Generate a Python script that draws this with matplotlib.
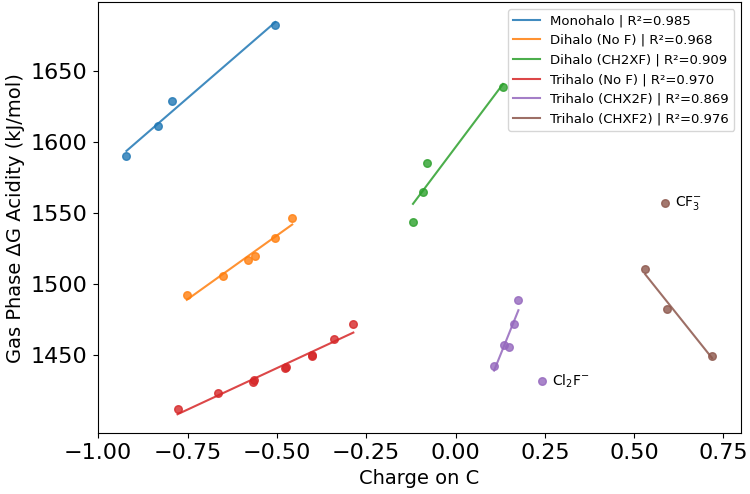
import matplotlib
matplotlib.use("Agg")
import matplotlib.pyplot as plt
import numpy as np

# charge on C / gas phase dG acidity (kJ/mol)
mono_x = [-0.921, -0.833, -0.794, -0.504]
mono_y = [1590.1, 1611.3, 1629.0, 1683.0]

di_nof_x = [-0.752, -0.650, -0.581, -0.562, -0.504, -0.457]
di_nof_y = [1492.2, 1505.4, 1517.1, 1519.5, 1532.6, 1546.8]

di_ch2xf_x = [-0.119, -0.091, -0.081, 0.133]
di_ch2xf_y = [1543.5, 1564.9, 1585.6, 1638.8]

tri_nof_x = [-0.778, -0.665, -0.567, -0.563, -0.477, -0.474, -0.403, -0.401, -0.340, -0.286]
tri_nof_y = [1411.4, 1422.7, 1430.7, 1431.8, 1440.4, 1441.6, 1449.8, 1449.2, 1460.9, 1471.9]

tri_chx2f_x = [0.108, 0.135, 0.151, 0.163, 0.176]
tri_chx2f_y = [1442.2, 1456.6, 1455.6, 1471.7, 1488.6]

tri_chxf2_x = [0.531, 0.592, 0.718]
tri_chxf2_y = [1510.3, 1482.1, 1449.3]

names = ["Monohalo", "Dihalo (No F)", "Dihalo (CH2XF)",
         "Trihalo (No F)", "Trihalo (CHX2F)", "Trihalo (CHXF2)"]
r2 = ["0.985", "0.968", "0.909", "0.970", "0.869", "0.976"]

# outliers, not in the fits
outlier_x = [0.242, 0.587]
outlier_y = [1431.4, 1557.3]
outlier_labels = ["Cl$_2$F$^{-}$", "CF$_3^{-}$"]
outlier_group = [4, 5]

groups = [(mono_x, mono_y), (di_nof_x, di_nof_y), (di_ch2xf_x, di_ch2xf_y),
          (tri_nof_x, tri_nof_y), (tri_chx2f_x, tri_chx2f_y), (tri_chxf2_x, tri_chxf2_y)]
colors = plt.rcParams['axes.prop_cycle'].by_key()['color']

fig, ax = plt.subplots(figsize=(7.5, 4.94), dpi=100)
fig.subplots_adjust(left=0.130, right=0.988, top=0.995, bottom=0.123)

for i, (gx, gy) in enumerate(groups):
    gx = np.array(gx)
    gy = np.array(gy)
    c = colors[i]
    ax.scatter(gx, gy, color=c, s=30, alpha=0.8)
    m, b = np.polyfit(gx, gy, 1)
    xx = np.array([gx.min(), gx.max()])
    ax.plot(xx, m * xx + b, color=c, lw=1.5, alpha=0.85,
            label=f"{names[i]} | R²={r2[i]}")

for ox, oy, lab, g in zip(outlier_x, outlier_y, outlier_labels, outlier_group):
    ax.scatter(ox, oy, color=colors[g], s=30, alpha=0.8)
    ax.annotate(lab, (ox, oy), xytext=(7, 0), textcoords='offset points',
                va='center', fontsize=10)

ax.set_xlabel("Charge on C", fontsize=14)
ax.set_ylabel("Gas Phase ΔG Acidity (kJ/mol)", fontsize=14)
ax.tick_params(labelsize=16)
ax.set_xticks([-1.0, -0.75, -0.5, -0.25, 0.0, 0.25, 0.5, 0.75])
ax.set_yticks([1450, 1500, 1550, 1600, 1650])
ax.set_xlim(-1.002, 0.799)
ax.set_ylim(1394.5, 1698.7)
ax.legend(loc='upper right', fontsize=9.5)

fig.savefig("out.png", dpi=100)
